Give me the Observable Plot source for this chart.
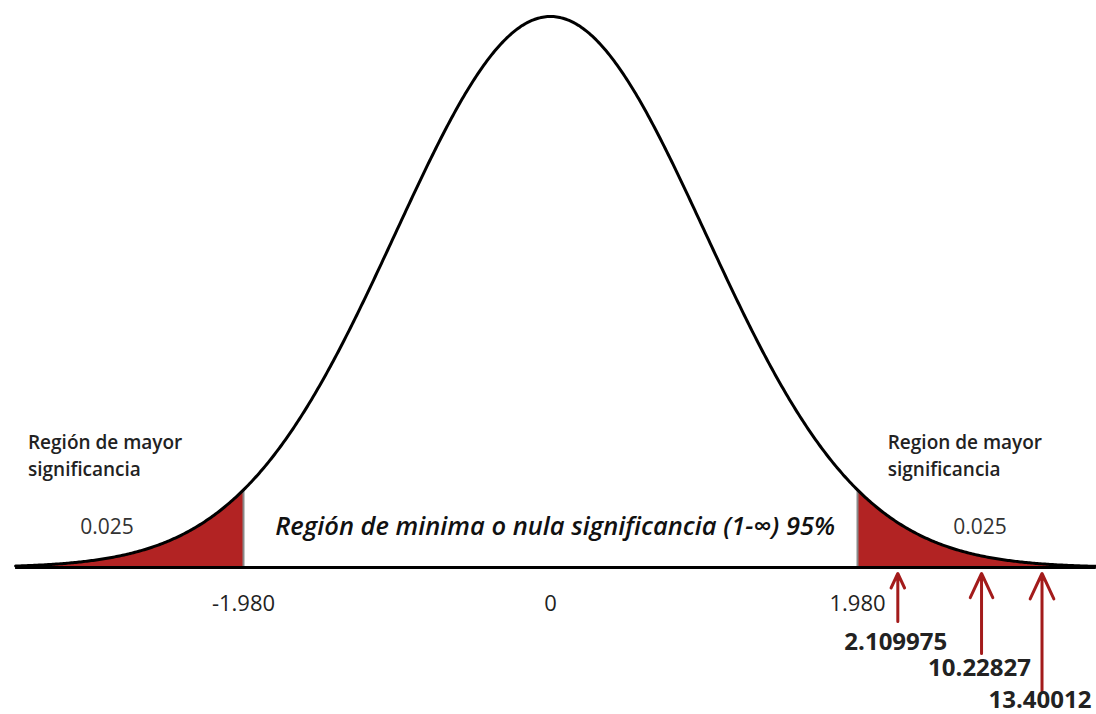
<!DOCTYPE html>
<html>
<head>
<meta charset="utf-8">
<script src="https://cdn.jsdelivr.net/npm/d3@7"></script>
<script src="https://cdn.jsdelivr.net/npm/@observablehq/plot@0.6"></script>
<style>
  html, body { margin: 0; padding: 0; background: #fff; }
  svg { display: block; }
</style>
</head>
<body>
<div id="chart"></div>
<script>
// ---- data ----
const cutoff = 1.98;                       // critical value
const xMin = -3.45, xMax = 3.52;           // extent of curve drawn
const tickValues = [-1.98, 0, 1.98];
const tickLabels = ["-1.980", "0", "1.980"];
const tailLabels = ["0.025", "0.025"];
const tailLabelX = [-2.86, 2.77];
const regionLines = [["Región de mayor", "significancia"], ["Region de mayor", "significancia"]];
const regionX = [-3.37, 2.175];
const centerLabel = "Región de minima o nula significancia (1-∞) 95%";
const statLabels = ["2.109975", "10.22827", "13.40012"];
const statArrowX = [2.24, 2.78, 3.17];
const statArrowLen = [48, 80, 117];        // px length of arrow shafts
const statLabelOffset = [75, 101, 133];     // px below axis of label centre

// normal density (the plotted function)
const pdf = z => Math.exp(-z * z / 2) / Math.sqrt(2 * Math.PI);
const xs = d3.range(xMin, xMax, 0.01).concat([-cutoff, cutoff, xMax]).sort((a, b) => a - b);
const curve = xs.map(x => ({x, y: pdf(x)}));
const leftTail = curve.filter(d => d.x <= -cutoff);
const rightTail = curve.filter(d => d.x >= cutoff);

const peak = pdf(0);
const baselinePx = 567, peakPx = 16;
const perPx = peak / (baselinePx - peakPx);
const pxBelow = p => -p * perPx;
const pxAbove = p => p * perPx;

const font = "'Open Sans', 'Noto Sans', sans-serif";

const chart = Plot.plot({
  width: 1096,
  height: 714,
  margin: 0,
  x: {domain: [-cutoff, cutoff], range: [243, 857], axis: null},
  y: {domain: [0, peak], range: [baselinePx, peakPx], axis: null},
  style: {fontFamily: font, background: "#fff"},
  marks: [
    Plot.areaY(leftTail, {x: "x", y: "y", fill: "#b22323"}),
    Plot.areaY(rightTail, {x: "x", y: "y", fill: "#b22323"}),
    Plot.ruleX([-cutoff, cutoff], {x: d => d, y1: 0, y2: d => pdf(d), stroke: "#8a8a8a", strokeWidth: 2}),
    Plot.ruleY([0], {x1: xMin, x2: xMax, stroke: "#000", strokeWidth: 3}),
    Plot.line(curve, {x: "x", y: "y", stroke: "#000", strokeWidth: 3}),
    // tick labels
    Plot.text(tickValues, {x: d => d, y: 0, dy: 36, text: (d, i) => tickLabels[i], fontSize: 22, fill: "#222"}),
    // tail probabilities
    Plot.text(tailLabels, {x: (d, i) => tailLabelX[i], y: pxAbove(40), text: d => d, fontSize: 21, fill: "#333"}),
    // region titles
    Plot.text(regionLines, {x: (d, i) => regionX[i], y: pxAbove(125), text: d => d[0], textAnchor: "start", fontSize: 19, fontWeight: 600, fill: "#222"}),
    Plot.text(regionLines, {x: (d, i) => regionX[i], y: pxAbove(98), text: d => d[1], textAnchor: "start", fontSize: 19, fontWeight: 600, fill: "#222"}),
    // centre label
    Plot.text([centerLabel], {x: 0.03, y: pxAbove(41), text: d => d, fontSize: 25.5, fontStyle: "italic", fontWeight: 600, fill: "#111"}),
    // arrows
    Plot.arrow(statLabels, {
      x1: (d, i) => statArrowX[i], x2: (d, i) => statArrowX[i],
      y1: (d, i) => pxBelow(6 + statArrowLen[i]), y2: pxBelow(6),
      stroke: "#a31b1b", strokeWidth: 3, headLength: 14, headAngle: 50
    }),
    Plot.text(statLabels, {
      x: (d, i) => statArrowX[i], y: (d, i) => pxBelow(statLabelOffset[i]), dx: -2,
      text: d => d, fontSize: 24, fontWeight: 700, fill: "#222"
    })
  ]
});
document.getElementById("chart").appendChild(chart);
</script>
</body>
</html>
